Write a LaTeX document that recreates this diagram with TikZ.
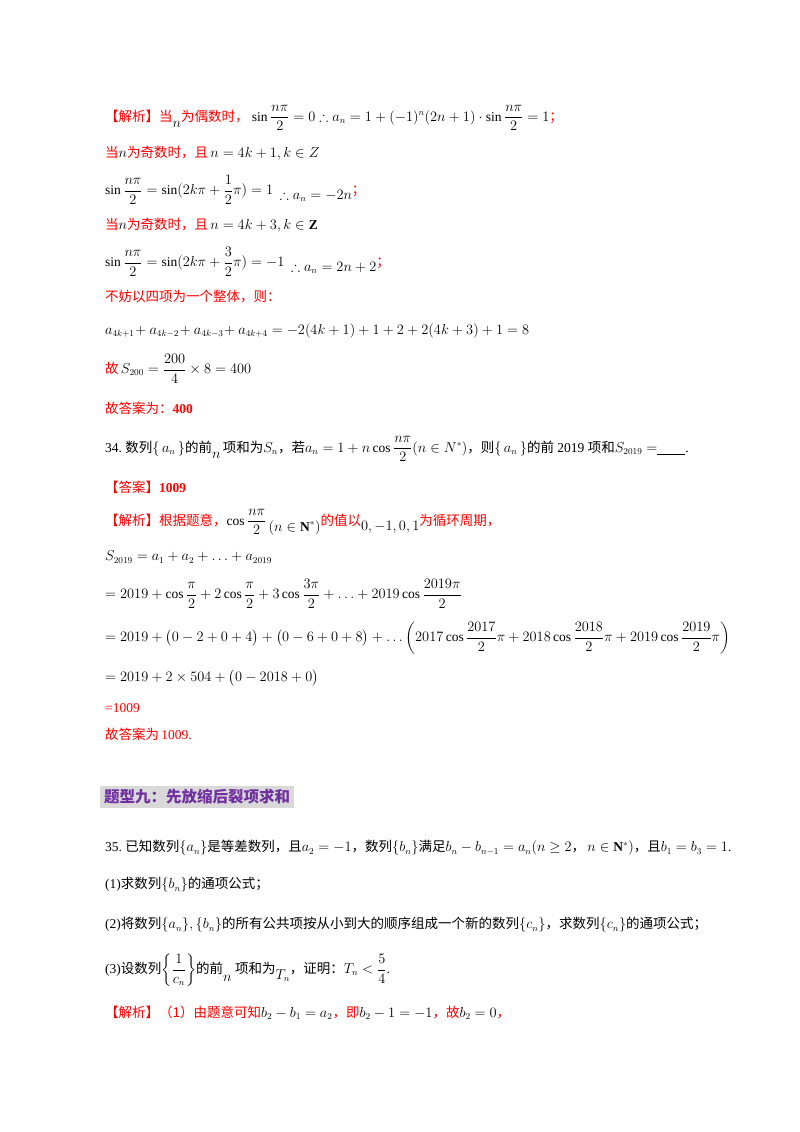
\documentclass[tikz,border=0pt]{standalone}
\usepackage{amsmath,amssymb}
\usepackage{fontspec}
\setmainfont{Liberation Serif}
\newfontfamily\cjf{Noto Sans CJK SC}
\newcommand{\cj}[1]{{\cjf #1}}
\newcommand{\rd}[1]{\textcolor{red}{\cj{#1}}}
\definecolor{hpurple}{HTML}{7030A0}
\definecolor{hgrey}{HTML}{D9D9D9}
\begin{document}
\begin{tikzpicture}[x=1pt,y=-1pt,
  every node/.style={anchor=west,inner sep=0pt,font=\fontsize{13.5}{16}\selectfont},
  ln/.style={}]
\useasboundingbox[fill=white] (0,0) rectangle (800,1132);
\node[ln] (l1) at (105,118) {\rd{【解析】当}\raisebox{-6pt}{$n$}\rd{为偶数时，}\ $\displaystyle\sin\frac{n\pi}{2}=0\therefore a_n=1+(-1)^n(2n+1)\cdot\sin\frac{n\pi}{2}=1$\rd{；}};
\node[ln] (l2) at (105,153) {\rd{当}$n$\rd{为奇数时，且}\,$n=4k+1,k\in Z$};
\node[ln] (l3) at (105,190) {$\displaystyle\sin\frac{n\pi}{2}=\sin(2k\pi+\frac{1}{2}\pi)=1$\ \ \raisebox{-5pt}{$\therefore a_n=-2n$}\rd{；}};
\node[ln] (l4) at (105,225) {\rd{当}$n$\rd{为奇数时，且}\,$n=4k+3,k\in \mathbf{Z}$};
\node[ln] (l5) at (105,262) {$\displaystyle\sin\frac{n\pi}{2}=\sin(2k\pi+\frac{3}{2}\pi)=-1$\ \ \raisebox{-5pt}{$\therefore a_n=2n+2$}\rd{；}};
\node[ln] (l6) at (105,297) {\rd{不妨以四项为一个整体，则：}};
\node[ln] (l7) at (105,331) {$a_{4k+1}\!+a_{4k-2}\!+a_{4k-3}\!+a_{4k+4}=-2(4k+1)+1+2+2(4k+3)+1=8$};
\node[ln] (l8) at (105,369) {\rd{故}\,$\displaystyle S_{200}=\frac{200}{4}\times 8=400$};
\node[ln] (l9) at (105,408) {\rd{故答案为：}\textcolor{red}{\textbf{400}}};
\node[ln] (l10) at (105,449) {34.\ \cj{数列}$\{\,a_n\,\}$\cj{的前}\raisebox{-6pt}{$n$}\,\cj{项和为}$S_n$\cj{，若}$\displaystyle a_n=1+n\cos\frac{n\pi}{2}(n\in N^*)$\cj{，则}$\{\,a_n\,\}$\cj{的前} 2019 \cj{项和}$S_{2019}=$\underline{\hspace{28pt}}.};
\node[ln] (l11) at (105,487) {\rd{【答案】}\textcolor{red}{\textbf{1009}}};
\node[ln] (l12) at (105,522) {\rd{【解析】根据题意，}$\displaystyle\cos\frac{n\pi}{2}$\,\raisebox{-6pt}{$(n\in\mathbf{N}^*)$}\rd{的值以}\raisebox{-5pt}{$0,-1,0,1$}\rd{为循环周期，}};
\node[ln] (l13) at (105,557) {$S_{2019}=a_1+a_2+\ldots+a_{2019}$};
\node[ln] (l14) at (105,594) {$\displaystyle =2019+\cos\frac{\pi}{2}+2\cos\frac{\pi}{2}+3\cos\frac{3\pi}{2}+\ldots+2019\cos\frac{2019\pi}{2}$};
\node[ln] (l15) at (105,638) {$\displaystyle =2019+\big(0-2+0+4\big)+\big(0-6+0+8\big)+\ldots\left(2017\cos\frac{2017}{2}\pi+2018\cos\frac{2018}{2}\pi+2019\cos\frac{2019}{2}\pi\right)$};
\node[ln] (l16) at (105,678) {$=2019+2\times504+\big(0-2018+0\big)$};
\node[ln] (l17) at (105,708) {\textcolor{red}{=1009}};
\node[ln] (l18) at (105,734) {\rd{故答案为}\,\textcolor{red}{1009.}};
\node[ln,fill=hgrey,inner xsep=4pt,inner ysep=4pt,font=\fontsize{15.5}{18}\selectfont\bfseries] (h) at (100,797) {\textcolor{hpurple}{\cj{\bfseries 题型九：先放缩后裂项求和}}};
\node[ln] (l19) at (105,848) {35.\ \cj{已知数列}$\{a_n\}$\cj{是等差数列，且}$a_2=-1$\cj{，数列}$\{b_n\}$\cj{满足}$b_n-b_{n-1}=a_n(n\geq2$\cj{，}\,$n\in\mathbf{N}^*)$\cj{，且}$b_1=b_3=1$.};
\node[ln] (l20) at (105,885) {(1)\cj{求数列}$\{b_n\}$\cj{的通项公式；}};
\node[ln] (l21) at (105,925) {(2)\cj{将数列}$\{a_n\},\{b_n\}$\cj{的所有公共项按从小到大的顺序组成一个新的数列}$\{c_n\}$\cj{，求数列}$\{c_n\}$\cj{的通项公式；}};
\node[ln] (l22) at (105,970) {(3)\cj{设数列}$\displaystyle\left\{\frac{1}{c_n}\right\}$\cj{的前}\raisebox{-8pt}{$n$}\ \cj{项和为}\raisebox{-6pt}{$T_n$}\cj{，证明：}$\displaystyle T_n<\frac{5}{4}$.};
\node[ln] (l23) at (105,1013) {\rd{【解析】（1）由题意可知}$b_2-b_1=a_2$\rd{，即}$b_2-1=-1$\rd{，故}$b_2=0$\rd{，}};
\end{tikzpicture}
\end{document}
